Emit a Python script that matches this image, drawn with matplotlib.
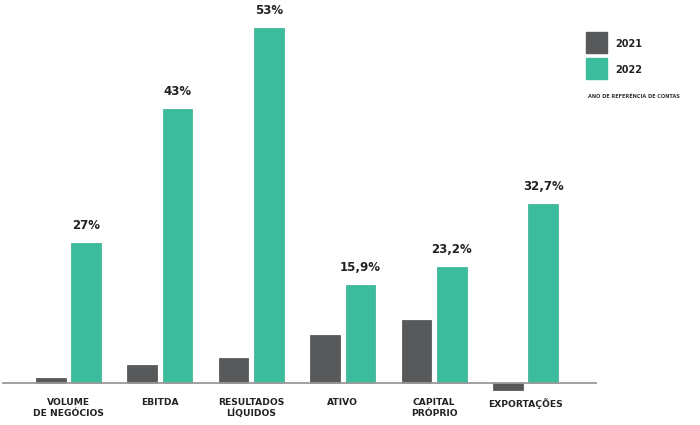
import matplotlib
matplotlib.use("Agg")
import matplotlib.pyplot as plt
from matplotlib.patches import Rectangle
import numpy as np

# ----- Data (bar heights, chart is not to scale) -----
categories = ["VOLUME\nDE NEGÓCIOS", "EBITDA", "RESULTADOS\nLÍQUIDOS",
              "ATIVO", "CAPITAL\nPRÓPRIO", "EXPORTAÇÕES"]
h_2021 = [5, 18.5, 25, 48, 63, -7]
h_2022 = [140, 274, 355, 98, 116, 179]
labels_2022 = ["27%", "43%", "53%", "15,9%", "23,2%", "32,7%"]
series = ["2021", "2022"]

GRAY = "#58595b"
TEAL = "#3bbd9d"

plt.rcParams["font.family"] = ["DejaVu Sans"]
plt.rcParams["font.weight"] = "bold"

fig = plt.figure(figsize=(7, 4.25), dpi=100)
ax = fig.add_axes([2 / 700, 25 / 425, 595 / 700, 400 / 425])

x = np.arange(len(categories))
w = 0.323
off = 0.194
ax.bar(x - off, h_2021, w, color=GRAY, edgecolor="#4a4b4d", linewidth=0.5)
ax.bar(x + off, h_2022, w, color=TEAL, edgecolor="#35ad8f", linewidth=0.5)

for xi, h, lab in zip(x, h_2022, labels_2022):
    ax.annotate(lab, (xi + off, h), xytext=(0, 8), textcoords="offset points",
                ha="center", va="bottom", fontsize=8.5, fontweight="bold",
                color="#222222")

ax.axhline(0, color="#9a9a9a", lw=1.3, zorder=3)

ax.set_xlim(-0.7276, 5.782)
ax.set_ylim(-17, 383)
ax.axis("off")

for xi, cat in zip(x, categories):
    ax.text(xi, -15, cat, ha="center", va="top", fontsize=6.6,
            fontweight="bold", color="#222222", linespacing=1.25)

# ----- Legend -----
for i, (name, col) in enumerate(zip(series, [GRAY, TEAL])):
    y0 = 1 - (53 + 26 * i) / 425
    fig.patches.append(Rectangle((586 / 700, y0), 21 / 700, 21 / 425,
                                 transform=fig.transFigure, color=col))
    fig.text(615 / 700, 1 - (44 + 26 * i) / 425, name, ha="left",
             va="center", fontsize=7, fontweight="bold", color="#222222")
fig.text(588 / 700, 1 - 96 / 425, "ANO DE REFERÊNCIA DE CONTAS", ha="left",
         va="center", fontsize=3.6, fontweight="bold", color="#333333")

fig.savefig("out.png", dpi=100)
